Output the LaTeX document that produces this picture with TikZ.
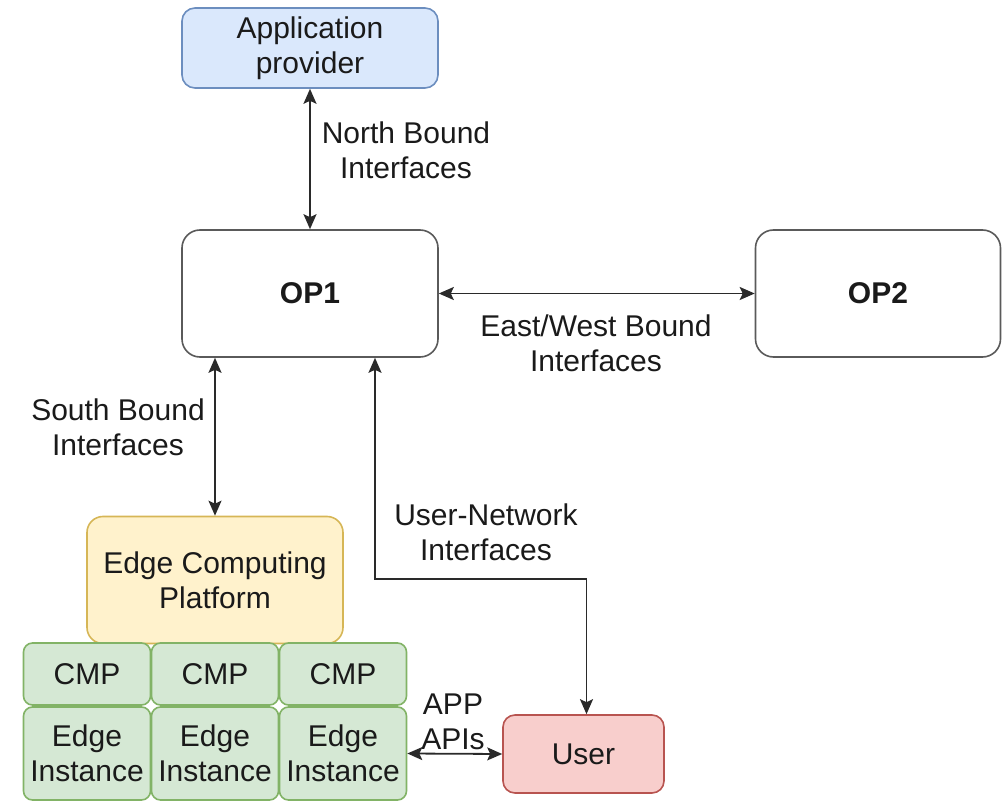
\documentclass[tikz,border=0pt]{standalone}
\usepackage{fontspec}
\setmainfont{Liberation Sans}
\usetikzlibrary{arrows.meta}
\definecolor{txt}{HTML}{1A1A1A}
\definecolor{ln}{HTML}{2A2A2A}
\definecolor{opstroke}{HTML}{5A5A5A}
\definecolor{bluefill}{HTML}{DAE8FC}\definecolor{bluestroke}{HTML}{6C8EBF}
\definecolor{yelfill}{HTML}{FFF2CC}\definecolor{yelstroke}{HTML}{D6B656}
\definecolor{grnfill}{HTML}{D5E8D4}\definecolor{grnstroke}{HTML}{82B366}
\definecolor{redfill}{HTML}{F8CECC}\definecolor{redstroke}{HTML}{B85450}
\tikzset{
  box/.style={draw, line width=1.6pt, align=center, text=txt, inner sep=0pt,
    font=\fontsize{30}{35}\selectfont},
  opbox/.style={box, draw=opstroke, fill=white, rounded corners=18pt,
    minimum width=256pt, minimum height=127pt, font=\fontsize{30}{35}\selectfont\bfseries},
  cell/.style={box, draw=grnstroke, fill=grnfill, rounded corners=9pt, minimum width=127pt},
  lbl/.style={align=center, text=txt, inner sep=0pt, font=\fontsize{30}{35}\selectfont},
  conn/.style={draw=ln, line width=1.8pt, {Stealth[length=15pt,width=13pt,inset=3pt]}-{Stealth[length=15pt,width=13pt,inset=3pt]}}
}
\begin{document}
\begin{tikzpicture}[x=1pt,y=-1pt]
\useasboundingbox (0,0) rectangle (1002,802);
\node[box, draw=bluestroke, fill=bluefill, rounded corners=13pt, minimum width=256pt, minimum height=80pt] (app) at (310,48) {Application\\provider};
\node[opbox] (op1) at (310,293.5) {OP1};
\node[opbox, minimum width=245pt] (op2) at (878,293.5) {OP2};
\node[box, draw=yelstroke, fill=yelfill, rounded corners=16pt, minimum width=256pt, minimum height=127pt] (ecp) at (215,580) {Edge Computing\\Platform};
\node[cell, minimum height=62pt] (cmp1) at (87,674) {CMP};
\node[cell, minimum height=62pt] (cmp2) at (215,674) {CMP};
\node[cell, minimum height=62pt] (cmp3) at (343,674) {CMP};
\node[cell, minimum height=93pt] (inst1) at (87,753.5) {Edge\\Instance};
\node[cell, minimum height=93pt] (inst2) at (215,753.5) {Edge\\Instance};
\node[cell, minimum height=93pt] (inst3) at (343,753.5) {Edge\\Instance};
\node[box, draw=redstroke, fill=redfill, rounded corners=12pt, minimum width=161pt, minimum height=78pt] (user) at (583.5,754) {User};

\coordinate (turn) at (480,579);
\draw[conn] (app.south) -- (op1.north);
\draw[conn] (op1.east) -- (op2.west);
\draw[conn] (ecp.north |- op1.south) -- (ecp.north);
\draw[conn] ([xshift=65pt]op1.south) |- (turn) -| ([xshift=3pt]user.north);
\draw[conn] (inst3.east) -- (user.west);

\node[lbl] (lnorth) at (406,150) {North Bound\\Interfaces};
\node[lbl] (least) at (596,343) {East/West Bound\\Interfaces};
\node[lbl] (lsouth) at (118,427) {South Bound\\Interfaces};
\node[lbl] (luser) at (486,532) {User-Network\\Interfaces};
\node[lbl] (lapi) at (453,722) {APP\\APIs};
\end{tikzpicture}
\end{document}
